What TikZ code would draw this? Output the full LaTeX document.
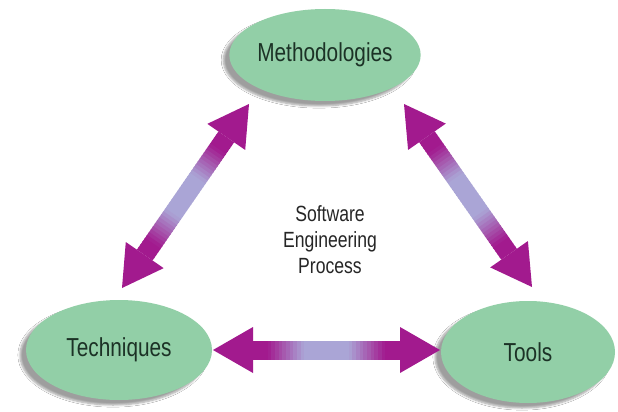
\documentclass[tikz,border=0pt]{standalone}
\usepackage{fontspec}
\setmainfont{Liberation Sans}[FakeStretch=0.8]
\usetikzlibrary{calc,shadows.blur,shapes.geometric}
\definecolor{nodegreen}{RGB}{146,207,167}
\definecolor{txtdark}{RGB}{28,50,38}
\definecolor{arrmag}{RGB}{162,26,142}
\definecolor{arrlav}{RGB}{170,165,214}
\tikzset{
  ell/.style={ellipse, fill=nodegreen, inner sep=0pt,
    font=\fontsize{26}{30}\selectfont, text=txtdark,
    blur shadow={shadow xshift=-6pt, shadow yshift=-5pt, shadow blur steps=6, shadow opacity=38}},
  headfill/.style={fill=arrmag},
}
\newcommand\dblarr[2]{%
  \coordinate (#1-b) at ($(#1)!40pt!(#2)$);
  \coordinate (#2-b) at ($(#2)!40pt!(#1)$);
  \foreach \i in {0,...,39}{%
    \pgfmathsetmacro\ta{\i/40}%
    \pgfmathsetmacro\tb{min(1,(\i+1.3)/40)}%
    \pgfmathsetmacro\dd{abs((\i+0.5)/40-0.5)*2}%
    \pgfmathsetmacro\mix{min(100,max(0,(\dd-0.3)*200))}%
    \draw[line width=19pt, color=arrmag!\mix!arrlav]
      ($(#1-b)!\ta!(#2-b)$) -- ($(#1-b)!\tb!(#2-b)$);
  }
  \fill[headfill] (#1) -- ($(#1-b)!23pt!90:(#1)$) -- ($(#1-b)!23pt!-90:(#1)$) -- cycle;
  \fill[headfill] (#2) -- ($(#2-b)!23pt!90:(#2)$) -- ($(#2-b)!23pt!-90:(#2)$) -- cycle;
}
\begin{document}
\begin{tikzpicture}[x=1pt,y=-1pt]
\fill[white] (0,0) rectangle (618,412);
\useasboundingbox (0,0) rectangle (618,412);
\node[ell, minimum width=180pt, minimum height=92pt] (meth) at (325,55) {Methodologies};
\node[ell, minimum width=186pt, minimum height=100pt] (tech) at (119,350) {Techniques};
\node[ell, minimum width=174pt, minimum height=102pt] (tools) at (528,352) {Tools};
\node[font=\fontsize{22}{26}\selectfont, align=center, text=black!85] (sep) at (330,240) {Software\\Engineering\\Process};
\coordinate (mL) at (249,104);
\coordinate (tU) at (122,288);
\coordinate (mR) at (404,104);
\coordinate (oU) at (532,287);
\coordinate (tR) at (213,350);
\coordinate (oL) at (440,350);
\dblarr{mL}{tU}
\dblarr{mR}{oU}
\dblarr{tR}{oL}
\end{tikzpicture}
\end{document}
